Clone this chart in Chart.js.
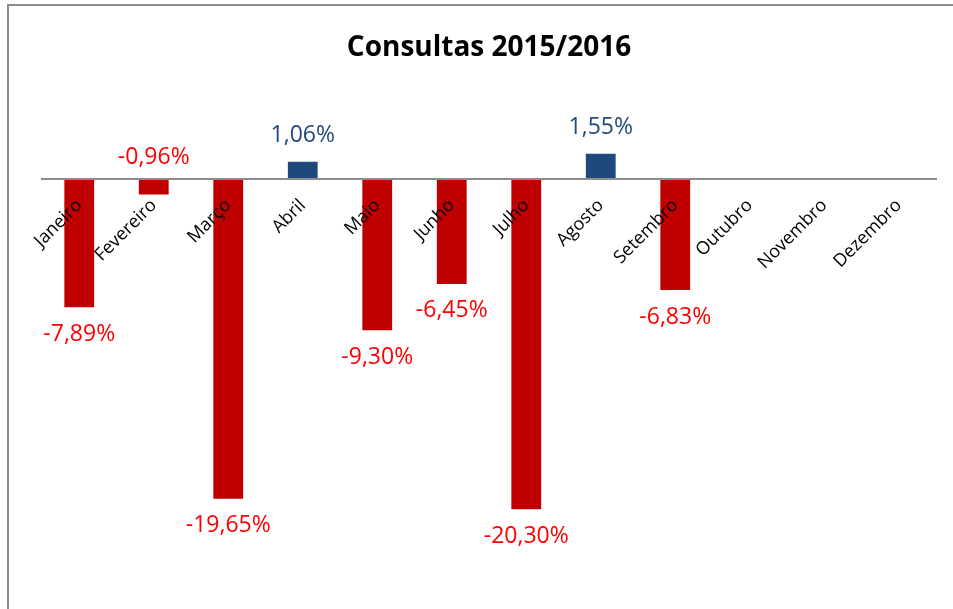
<!DOCTYPE html>
<html lang="pt">
<head>
  <meta charset="UTF-8">
  <title>Consultas 2015/2016</title>
  <script src="https://cdn.jsdelivr.net/npm/chart.js"></script>
  <style>
    body {
      margin: 0;
      background: #fff;
      overflow: hidden;
    }
    .frame {
      position: absolute;
      left: 7px;
      top: 4px;
      width: 1000px;
      height: 700px;
      border-left: 2px solid #8c8c8c;
      border-top: 2px solid #8c8c8c;
    }
    #chart {
      position: absolute;
      left: 0;
      top: 0;
    }
  </style>
</head>
<body>
  <div class="frame"></div>
  <canvas id="chart" width="953" height="609"></canvas>

  <script>
    const months = ['Janeiro', 'Fevereiro', 'Março', 'Abril', 'Maio', 'Junho',
                    'Julho', 'Agosto', 'Setembro', 'Outubro', 'Novembro', 'Dezembro'];
    const variation = [-7.89, -0.96, -19.65, 1.06, -9.30, -6.45, -20.30, 1.55, -6.83, null, null, null];

    const RED = '#c00000';
    const BLUE = '#1f497d';
    const FONT = '"Open Sans", "Noto Sans", sans-serif';

    const fmt = v => (v > 0 ? '' : '-') + Math.abs(v).toFixed(2).replace('.', ',') + '%';

    // value labels, drawn at the bar ends
    const valueLabels = {
      id: 'valueLabels',
      afterDraw(chart) {
        const ctx = chart.ctx;
        const meta = chart.getDatasetMeta(0);
        const zero = chart.scales.y.getPixelForValue(0);
        ctx.save();
        ctx.font = '23px ' + FONT;
        ctx.textAlign = 'center';
        ctx.textBaseline = 'middle';
        meta.data.forEach((bar, i) => {
          const v = variation[i];
          if (v === null) return;
          let y;
          if (v > 0) {
            y = bar.y - 26;
            ctx.fillStyle = BLUE;
          } else if (v > -1.5) {
            y = zero - 22;
            ctx.fillStyle = '#ff0000';
          } else {
            y = bar.y + 27;
            ctx.fillStyle = '#ff0000';
          }
          ctx.fillText(fmt(v), bar.x, y);
        });
        ctx.restore();
      }
    };

    new Chart(document.getElementById('chart'), {
      type: 'bar',
      data: {
        labels: months,
        datasets: [{
          data: variation,
          backgroundColor: variation.map(v => v > 0 ? BLUE : RED),
          barPercentage: 0.4,
          categoryPercentage: 1.0
        }]
      },
      options: {
        responsive: false,
        animation: false,
        devicePixelRatio: 1,
        layout: {
          padding: { left: 42, right: 17, top: 0, bottom: 7 }
        },
        plugins: {
          legend: { display: false },
          tooltip: { enabled: false },
          title: {
            display: true,
            text: 'Consultas 2015/2016',
            color: '#000',
            font: { family: FONT, size: 28, weight: 'bold' },
            padding: { top: 31, bottom: 33 }
          }
        },
        scales: {
          x: {
            position: { y: 0 },
            afterFit: scale => { scale.height = 0; },
            grid: { display: false, drawTicks: false },
            border: { display: true, color: '#8c8c8c', width: 2, z: 1 },
            ticks: {
              z: 1,
              autoSkip: false,
              minRotation: 45,
              maxRotation: 45,
              padding: 16,
              color: '#000',
              font: { family: FONT, size: 18 }
            }
          },
          y: {
            display: false,
            min: -26,
            max: 5
          }
        }
      },
      plugins: [valueLabels]
    });
  </script>
</body>
</html>
